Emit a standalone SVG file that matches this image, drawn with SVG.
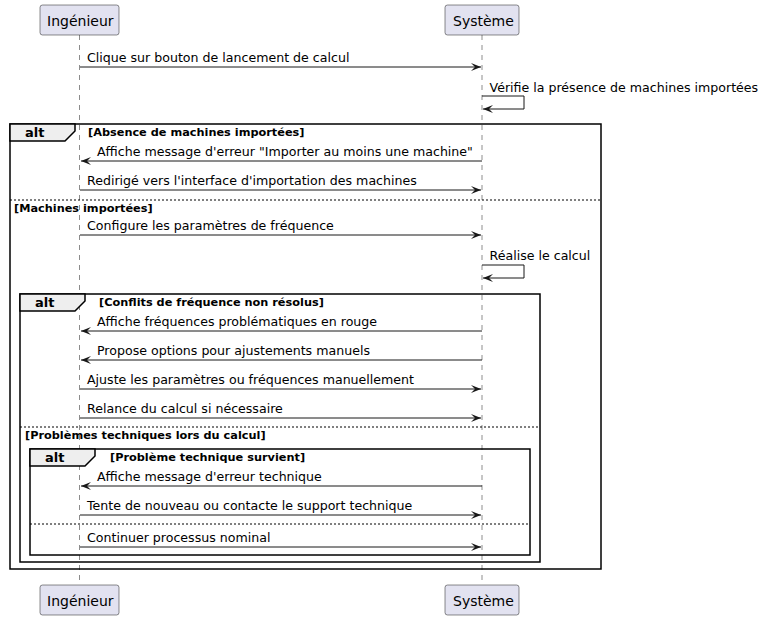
<svg xmlns="http://www.w3.org/2000/svg" width="768" height="620" viewBox="0 0 768 620">
<style>
text{font-family:"DejaVu Sans","Liberation Sans",sans-serif;fill:#000}
.pr{fill:#E2E2F0;stroke:#181818;stroke-width:0.5}
.pt{font-size:14px}
.mt{font-size:12.6px}
.ct{font-size:11.3px;font-weight:bold}
.at{font-size:13px;font-weight:bold}
.ll{stroke:#181818;stroke-width:0.5;stroke-dasharray:5,5}
.ml{stroke:#181818;stroke-width:1;fill:none}
.fr{fill:none;stroke:#000;stroke-width:1.5}
.tab{fill:#EEEEEE;stroke:#000;stroke-width:1.5}
.sep{stroke:#000;stroke-width:1;stroke-dasharray:2,2}
</style>
<defs>
<marker id="ah" markerUnits="userSpaceOnUse" markerWidth="10" markerHeight="8" refX="10" refY="4" orient="auto" overflow="visible">
<path d="M0,0 L10,4 L0,8 L4,4 Z" fill="#181818"/>
</marker>
</defs>
<g id="lifelines">
<line class="ll" x1="79.5" y1="35" x2="79.5" y2="585"/>
<line class="ll" x1="482" y1="35" x2="482" y2="585"/>
</g>
<g id="p-ingenieur">
<rect class="pr" x="40" y="5" width="79" height="30" rx="2.5"/>
<text class="pt" x="47" y="25.5">Ingénieur</text>
<rect class="pr" x="40" y="585" width="79" height="30" rx="2.5"/>
<text class="pt" x="47" y="605.5">Ingénieur</text>
</g>
<g id="p-systeme">
<rect class="pr" x="445" y="5" width="74" height="30" rx="2.5"/>
<text class="pt" x="453" y="25.5">Système</text>
<rect class="pr" x="445" y="585" width="74" height="30" rx="2.5"/>
<text class="pt" x="453" y="605.5">Système</text>
</g>
<g id="frame-alt1">
<rect class="fr" x="10" y="124" width="591" height="445"/>
<polygon class="tab" points="10,124 75,124 75,131 65,141 10,141"/>
<text class="at" x="25" y="137">alt</text>
<text class="ct" x="88" y="135.5">[Absence de machines importées]</text>
<line class="sep" x1="10" y1="200" x2="601" y2="200"/>
<text class="ct" x="14" y="211.5">[Machines importées]</text>
</g>
<g id="frame-alt2">
<rect class="fr" x="20" y="294" width="520" height="268"/>
<polygon class="tab" points="20,294 85,294 85,301 75,311 20,311"/>
<text class="at" x="35" y="307">alt</text>
<text class="ct" x="99" y="305.5">[Conflits de fréquence non résolus]</text>
<line class="sep" x1="20" y1="427" x2="540" y2="427"/>
<text class="ct" x="25" y="438.5">[Problèmes techniques lors du calcul]</text>
</g>
<g id="frame-alt3">
<rect class="fr" x="30" y="449" width="500" height="106"/>
<polygon class="tab" points="30,449 95,449 95,456 85,466 30,466"/>
<text class="at" x="45" y="462">alt</text>
<text class="ct" x="110" y="460.5">[Problème technique survient]</text>
<line class="sep" x1="30" y1="524" x2="530" y2="524"/>
</g>
<g id="connectors">
<line class="ml" x1="80" y1="67" x2="481" y2="67" marker-end="url(#ah)"/>
<text class="mt" x="87" y="62">Clique sur bouton de lancement de calcul</text>
<polyline class="ml" points="482,96 524,96 524,109 483,109" marker-end="url(#ah)"/>
<text class="mt" x="489.5" y="91.5">Vérifie la présence de machines importées</text>
<line class="ml" x1="482" y1="161" x2="81" y2="161" marker-end="url(#ah)"/>
<text class="mt" x="97" y="156">Affiche message d'erreur "Importer au moins une machine"</text>
<line class="ml" x1="80" y1="190" x2="481" y2="190" marker-end="url(#ah)"/>
<text class="mt" x="87" y="185">Redirigé vers l'interface d'importation des machines</text>
<line class="ml" x1="80" y1="235" x2="481" y2="235" marker-end="url(#ah)"/>
<text class="mt" x="87" y="230">Configure les paramètres de fréquence</text>
<polyline class="ml" points="482,265 524,265 524,278 483,278" marker-end="url(#ah)"/>
<text class="mt" x="489.5" y="260">Réalise le calcul</text>
<line class="ml" x1="482" y1="331" x2="81" y2="331" marker-end="url(#ah)"/>
<text class="mt" x="97" y="326">Affiche fréquences problématiques en rouge</text>
<line class="ml" x1="482" y1="360" x2="81" y2="360" marker-end="url(#ah)"/>
<text class="mt" x="97" y="355">Propose options pour ajustements manuels</text>
<line class="ml" x1="80" y1="389" x2="481" y2="389" marker-end="url(#ah)"/>
<text class="mt" x="87" y="384">Ajuste les paramètres ou fréquences manuellement</text>
<line class="ml" x1="80" y1="418" x2="481" y2="418" marker-end="url(#ah)"/>
<text class="mt" x="87" y="413">Relance du calcul si nécessaire</text>
<line class="ml" x1="482" y1="486" x2="81" y2="486" marker-end="url(#ah)"/>
<text class="mt" x="97" y="481">Affiche message d'erreur technique</text>
<line class="ml" x1="80" y1="515" x2="481" y2="515" marker-end="url(#ah)"/>
<text class="mt" x="87" y="510">Tente de nouveau ou contacte le support technique</text>
<line class="ml" x1="80" y1="547" x2="481" y2="547" marker-end="url(#ah)"/>
<text class="mt" x="87" y="542">Continuer processus nominal</text>
</g>
</svg>
